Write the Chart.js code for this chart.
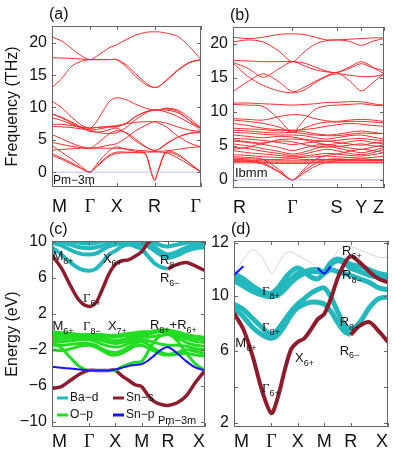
<!DOCTYPE html>
<html>
<head>
<meta charset="utf-8">
<script src="https://cdn.jsdelivr.net/npm/chart.js@4.4.0/dist/chart.umd.min.js"></script>
<style>
  body { margin: 0; background: #fff; width: 393px; height: 452px; position: relative; overflow: hidden; }
  canvas { position: absolute; }
</style>
</head>
<body>
<canvas id="chartA" width="210" height="222" style="left:0;top:0"></canvas>
<canvas id="chartB" width="188" height="222" style="left:205px;top:0"></canvas>
<canvas id="chartC" width="210" height="230" style="left:0;top:222px"></canvas>
<canvas id="chartD" width="188" height="230" style="left:205px;top:222px"></canvas>
<script>
// ---- (a) phonons, Pm-3m, path M-G-X-R-G ----
const kPathA = [0, 0.35, 0.71, 1.06, 1.414, 1.66, 1.91, 2.16, 2.414, 2.77, 3.12, 3.48, 3.68, 3.828, 3.97, 4.26, 4.69, 5.13, 5.56];
const symPointsA = [0, 1.414, 2.414, 3.828, 5.56];
const symLabelsA = ['M', 'Γ', 'X', 'R', 'Γ'];
const phononA_acoustic = [
  [2.6, 2.0, 1.3, 0.6, 0, 0.8, 1.7, 2.5, 2.9, 3.0, 3.05, 3.1, 3.1, 3.1, 3.1, 3.0, 2.2, 1.1, 0],
  [2.9, 2.2, 1.5, 0.7, 0, 0.9, 1.9, 2.7, 3.1, 3.1, 3.0, 2.8, 0.2, -1.3, 0.2, 3.0, 2.6, 1.4, 0],
  [4.1, 3.1, 2.1, 1.0, 0, 1.2, 2.4, 3.4, 3.9, 3.5, 3.2, 2.9, 0.4, -1.2, 0.4, 3.2, 2.8, 1.4, 0]
];
const phononA_optical = [
  [3.4, 3.5, 3.6, 3.7, 3.7, 3.7, 3.7, 3.7, 3.7, 3.6, 3.4, 3.3, 3.2, 3.2, 3.2, 3.3, 3.5, 3.8, 3.9],
  [4.6, 4.3, 4.0, 3.8, 3.7, 3.8, 4.0, 4.2, 4.4, 5.3, 6.4, 7.2, 7.6, 7.8, 7.6, 7.0, 5.6, 4.5, 3.9],
  [5.8, 5.2, 4.5, 4.0, 3.7, 4.3, 5.2, 6.0, 6.4, 6.1, 5.1, 4.0, 3.5, 3.3, 3.5, 4.4, 5.4, 6.0, 6.1],
  [7.1, 7.0, 6.9, 6.7, 6.5, 6.6, 6.8, 7.0, 7.1, 7.5, 8.6, 9.3, 9.5, 9.6, 9.6, 9.8, 9.4, 8.0, 6.8],
  [7.4, 7.4, 7.2, 7.0, 6.8, 6.9, 7.0, 7.1, 7.2, 7.5, 7.7, 7.8, 7.8, 7.8, 7.8, 7.6, 7.0, 6.5, 6.3],
  [8.4, 8.0, 7.4, 6.9, 6.5, 6.2, 6.0, 6.0, 6.1, 6.9, 8.1, 9.1, 9.5, 9.6, 9.6, 9.9, 9.6, 8.4, 6.8],
  [9.0, 8.5, 7.8, 7.0, 6.3, 6.2, 6.3, 6.6, 6.8, 6.0, 4.8, 3.9, 3.5, 3.4, 3.5, 4.3, 5.4, 6.0, 6.3],
  [11.0, 10.0, 8.6, 7.4, 6.8, 7.8, 9.5, 11.0, 11.5, 11.2, 10.5, 9.9, 9.7, 9.6, 9.6, 9.3, 8.6, 7.6, 6.8],
  [9.0, 8.4, 7.6, 7.0, 6.8, 6.9, 7.0, 7.0, 7.0, 7.6, 8.6, 9.3, 9.5, 9.6, 9.6, 9.6, 9.2, 8.0, 6.3]
];
const phononA_high = [
  [20.9, 20.3, 19.2, 18.1, 17.4, 17.9, 18.6, 19.3, 19.7, 20.5, 21.2, 21.6, 21.7, 21.7, 21.7, 21.5, 21.0, 19.4, 17.4],
  [17.7, 17.65, 17.6, 17.5, 17.4, 17.4, 17.4, 17.4, 17.4, 16.6, 15.2, 13.9, 13.3, 13.1, 13.2, 14.2, 15.8, 17.0, 17.4],
  [13.1, 14.4, 16.3, 17.1, 17.4, 17.4, 17.4, 17.4, 17.4, 16.3, 14.8, 13.6, 13.2, 13.1, 13.2, 14.1, 15.7, 16.9, 17.4]
];

// ---- (b) phonons, Ibmm, path R-G-S-Y-Z ----
const kPathB = [0, 0.1, 0.2, 0.3, 0.394, 0.47, 0.545, 0.62, 0.686, 0.77, 0.85, 0.925, 1.0];
const symPointsB = [0, 0.394, 0.686, 0.85, 1.0];
const symLabelsB = ['R', 'Γ', 'S', 'Y', 'Z'];
const phononB_high = [
  [21.0, 20.8, 21.0, 21.4, 21.5, 21.4, 21.0, 20.6, 20.6, 20.7, 20.8, 20.9, 20.9],
  [20.3, 20.6, 20.3, 19.0, 17.4, 18.8, 20.0, 20.5, 20.6, 20.4, 19.8, 20.4, 20.8],
  [17.6, 17.5, 17.4, 17.4, 17.4, 17.2, 16.6, 16.0, 15.8, 16.6, 17.4, 16.6, 15.6],
  [17.3, 16.4, 15.1, 16.3, 17.4, 16.8, 16.2, 15.9, 15.8, 16.4, 17.1, 16.5, 16.1],
  [13.0, 14.5, 15.6, 14.5, 13.0, 13.6, 14.5, 15.3, 15.8, 14.6, 13.1, 14.3, 15.6],
  [17.2, 15.2, 13.9, 13.1, 12.8, 13.2, 14.3, 15.2, 15.6, 15.4, 15.2, 15.2, 15.5]
];
const phononB_mid = [
  [11.3, 11.3, 11.2, 11.1, 11.0, 11.1, 11.2, 11.4, 11.4, 11.5, 11.5, 11.2, 11.0],
  [11.1, 11.0, 10.8, 9.0, 7.0, 8.8, 10.4, 10.9, 11.0, 11.1, 11.2, 11.0, 10.9],
  [9.0, 8.9, 8.8, 9.3, 9.6, 9.5, 9.0, 8.7, 8.6, 8.8, 8.9, 8.8, 8.6],
  [8.8, 8.6, 8.3, 7.8, 7.0, 7.6, 8.2, 8.5, 8.5, 8.6, 8.6, 8.5, 8.4]
];
const phononB_low = [
  [8.3, 8.0, 7.6, 7.4, 7.3, 7.4, 7.6, 7.9, 8.1, 8.3, 8.2, 8.0, 7.9],
  [7.6, 7.5, 7.4, 7.2, 7.3, 7.1, 6.8, 6.6, 6.7, 7.0, 7.2, 7.0, 6.8],
  [7.3, 7.2, 7.0, 6.9, 7.0, 6.8, 6.6, 6.5, 6.5, 6.7, 6.9, 6.8, 6.8],
  [7.0, 6.9, 6.7, 6.6, 6.6, 6.5, 6.2, 6.0, 6.2, 6.5, 6.6, 6.3, 6.0],
  [6.6, 6.4, 6.2, 6.4, 6.3, 6.0, 5.8, 5.7, 5.8, 6.0, 6.1, 5.9, 5.8],
  [5.9, 5.6, 5.4, 5.9, 6.0, 5.9, 5.5, 5.2, 5.3, 5.6, 5.8, 5.5, 5.3],
  [6.1, 6.0, 5.8, 5.5, 5.2, 5.4, 5.6, 5.7, 5.5, 5.3, 5.1, 5.4, 5.6],
  [5.7, 5.5, 5.2, 4.8, 4.3, 4.7, 5.1, 5.2, 5.0, 4.7, 4.5, 4.8, 5.2],
  [4.5, 4.8, 5.4, 5.7, 5.6, 5.2, 4.9, 4.8, 4.9, 5.1, 5.3, 5.0, 4.9],
  [5.3, 5.0, 4.6, 4.2, 3.8, 4.1, 4.6, 5.0, 4.7, 4.3, 4.0, 4.3, 4.8],
  [4.8, 4.6, 4.2, 3.9, 3.6, 3.8, 4.2, 4.5, 4.3, 3.9, 3.7, 4.0, 4.5],
  [4.3, 4.0, 3.8, 3.6, 3.4, 3.5, 3.7, 3.9, 3.8, 3.6, 3.5, 3.7, 4.0],
  [3.7, 3.6, 3.4, 3.3, 3.2, 3.3, 3.4, 3.5, 3.4, 3.3, 3.2, 3.3, 3.5],
  [3.2, 3.1, 3.0, 3.0, 3.1, 3.0, 3.0, 3.0, 3.0, 3.0, 3.1, 3.0, 3.0],
  [2.9, 2.9, 2.8, 2.8, 2.8, 2.8, 2.8, 2.8, 2.8, 2.8, 2.8, 2.8, 2.8],
  [2.7, 2.7, 2.6, 2.6, 2.6, 2.6, 2.6, 2.6, 2.6, 2.6, 2.6, 2.6, 2.6],
  [2.5, 2.5, 2.5, 2.4, 2.4, 2.4, 2.5, 2.5, 2.5, 2.5, 2.5, 2.5, 2.5]
];
const phononB_acoustic = [
  [3.0, 2.9, 2.5, 1.3, 0, 1.0, 2.0, 2.6, 2.8, 2.9, 2.9, 2.9, 2.9],
  [2.8, 2.7, 2.3, 1.2, 0, 1.3, 2.4, 3.0, 3.1, 3.0, 2.9, 2.9, 2.9],
  [3.4, 3.3, 3.0, 1.6, 0, 1.6, 3.0, 3.6, 3.8, 4.2, 4.5, 4.3, 4.0]
];

const freqTicks = [0, 5, 10, 15, 20];

// ---- (c), (d) electronic bands, path M-G-X-M-R-X ----
const kPathCD = [0, 0.354, 0.707, 1.061, 1.414, 1.664, 1.914, 2.164, 2.414, 2.664, 2.914, 3.164, 3.414, 3.664, 3.914, 4.164, 4.414, 4.768, 5.121, 5.475, 5.828];
const symPointsCD = [0, 1.414, 2.414, 3.414, 4.414, 5.828];
const symLabelsCD = ['M', 'Γ', 'X', 'M', 'R', 'X'];

const bandsC_Bad = [
  [9.4, 8.6, 7.7, 7.0, 6.8, 7.0, 7.7, 8.6, 9.0, 9.5, 9.7, 9.5, 9.2, 8.4, 7.6, 7.2, 7.0, null, null, null, null],
  [9.9, 9.6, 9.1, 8.7, 8.6, 8.7, 9.1, 9.5, 9.7, 9.9, 10.0, 9.9, 9.7, 9.5, 9.0, 8.5, 8.2, 8.5, 9.0, 9.3, 9.4],
  [10.2, 10.0, 9.7, 9.4, 9.3, 9.4, 9.6, 9.9, 10.0, 10.1, 10.2, 10.1, 10.0, 9.8, 9.4, 8.9, 8.6, 8.9, 9.4, 9.7, 9.8],
  [10.4, 10.3, 10.1, 9.9, 9.8, 9.9, 10.1, 10.3, 10.4, 10.5, 10.5, 10.4, 10.3, 10.2, 9.9, 9.6, 9.5, 9.7, 9.9, 10.0, 10.1]
];
const bandsC_Sns = [
  [8.5, 7.1, 5.1, 3.4, 2.8, 3.2, 4.7, 6.4, 7.5, 7.9, 8.0, 8.4, 8.9, 9.9, 10.4, 10.8, 11.0, 10.8, 10.6, 10.4, 10.3],
  [null, null, null, null, null, null, null, null, null, null, null, null, null, null, null, null, 7.0, 7.5, 7.7, 7.3, 6.8],
  [-6.3, -6.1, -5.4, -4.7, -4.3, -4.3, -4.3, -4.3, -4.3, -4.9, -5.4, -5.9, -6.1, -7.1, -7.8, -8.1, -8.2, -7.9, -7.1, -5.6, -4.3]
];
const bandsC_Op = [
  [0.0, -0.1, -0.2, -0.3, -0.3, -0.3, -0.3, -0.4, -0.4, -0.3, -0.2, -0.1, 0.0, 0.0, 0.1, 0.2, 0.2, 0.0, -0.3, -0.5, -0.6],
  [-0.3, -0.3, -0.4, -0.4, -0.4, -0.5, -0.6, -0.6, -0.6, -0.5, -0.4, -0.3, -0.2, -0.1, 0.0, 0.1, 0.1, -0.2, -0.5, -0.8, -0.9],
  [-0.6, -0.5, -0.5, -0.5, -0.5, -0.6, -0.8, -0.9, -1.0, -0.9, -0.7, -0.5, -0.4, -0.3, -0.1, 0.0, 0.0, -0.4, -0.8, -1.1, -1.2],
  [-0.9, -0.8, -0.7, -0.7, -0.7, -0.8, -1.0, -1.2, -1.3, -1.2, -1.0, -0.8, -0.6, -0.6, -0.5, -0.4, -0.3, -0.7, -1.2, -1.5, -1.6],
  [-1.2, -1.1, -1.0, -0.9, -0.9, -1.1, -1.4, -1.6, -1.7, -1.6, -1.3, -1.0, -0.9, -1.0, -1.2, -1.4, -1.5, -1.5, -1.6, -1.9, -2.0],
  [-1.5, -1.5, -1.4, -1.3, -1.3, -1.5, -1.9, -2.2, -2.3, -2.1, -1.7, -1.3, -1.1, -1.4, -1.9, -2.3, -2.5, -2.3, -2.0, -2.2, -2.4],
  [-2.0, -2.1, -1.9, -1.6, -1.5, -1.7, -2.1, -2.5, -2.6, -2.4, -2.0, -1.6, -1.5, -1.8, -2.2, -2.5, -2.6, -2.5, -2.4, -2.6, -2.7],
  [-1.1, -1.8, -2.9, -3.9, -4.3, -4.3, -4.3, -4.3, -4.3, -3.9, -3.6, -3.4, -3.3, -2.2, -1.0, -0.4, -0.2, -1.0, -2.4, -3.6, -4.3]
];
const bandsC_Snp = [
  [-3.9, -4.0, -4.1, -4.2, -4.3, -4.3, -4.3, -4.3, -4.2, -4.0, -3.8, -3.7, -3.6, -3.2, -2.6, -2.0, -1.7, -2.4, -3.3, -4.0, -4.3]
];
const energyTicksC = [-10, -6, -2, 2, 6, 10];

const bandsD_Bad = [
  [8.4, 7.9, 7.3, 6.9, 6.7, 6.9, 7.4, 8.0, 8.4, 8.6, 8.7, 8.7, 8.6, 8.2, 7.6, 7.1, 6.9, null, null, null, null],
  [8.6, 8.3, 7.8, 7.3, 6.9, 7.2, 7.7, 8.2, 8.6, 8.9, 9.2, 9.4, 9.5, 9.0, 8.2, 7.5, 7.2, 7.6, 8.4, 8.9, 9.0],
  [9.9, 9.6, 9.3, 9.1, 9.0, 9.1, 9.4, 9.8, 10.1, 10.3, 10.4, 10.4, 10.4, 10.8, 11.0, 10.9, 10.6, 10.4, 10.2, 10.1, 10.0],
  [10.1, 9.8, 9.5, 9.2, 9.1, 9.3, 9.7, 10.0, 10.3, 10.4, 10.5, 10.5, 10.4, 10.9, 11.1, 11.0, 10.8, 10.7, 10.5, 10.3, 10.2],
  [10.3, 10.0, 9.6, 9.3, 9.2, 9.5, 10.0, 10.4, 10.6, 10.4, 10.1, 10.0, 10.3, 10.5, 10.4, 10.3, 10.2, 10.0, 9.8, 9.5, 9.4]
];
const bandsD_Sns = [
  [8.1, 7.2, 5.7, 3.8, 2.55, 3.45, 4.9, 6.1, 6.5, 6.7, 7.2, 7.75, 8.05, 8.9, 10.0, 10.8, 11.25, 10.9, 10.4, 10.0, 9.8],
  [null, null, null, null, null, null, null, null, null, null, null, null, null, null, null, null, 6.9, 7.4, 7.6, 7.1, 6.5]
];
const bandsD_weak = [
  [10.2, 11.1, 11.6, 11.2, 10.3, 10.8, 11.4, 11.5, 11.3, 11.1, 10.9, 10.6, 10.3, 11.0, 11.5, 11.8, 11.8, 11.6, 11.4, 11.2, 11.2]
];
const bandsD_weakSnp = [
  [10.2, 10.7, null, null, null, null, null, null, null, null, null, 10.6, 10.3, 10.7, null, null, null, null, null, null, null]
];
const energyTicksD = [2, 4, 6, 9.05, 12];
const energyLabelsD = ['2', '', '6', '10', '12'];

// level labels: [k, E, main, sub, main, sub ...]
const notesC = [
  [0.02, 8.4, 'M', '6+'], [1.94, 8.1, 'X', '6+'], [4.11, 7.9, 'R', '8−'], [4.11, 5.9, 'R', '6−'],
  [1.18, 3.7, 'Γ', '6+'], [0.02, 0.6, 'M', '6+'], [1.18, 0.6, 'Γ', '8−'], [2.13, 0.6, 'X', '7+'],
  [3.73, 0.7, 'R', '8+', '+R', '6+']
];
const notesD = [
  [4.09, 11.5, 'R', '6+'], [4.09, 10.2, 'R', '8−'], [1.06, 9.3, 'Γ', '8+'], [1.06, 7.3, 'Γ', '8+'],
  [4.0, 7.6, 'R', '8−'], [0.05, 6.4, 'M', '6+'], [4.0, 6.0, 'R', '6−'], [2.31, 5.6, 'X', '6+'],
  [1.06, 3.9, 'Γ', '6+']
];
const legendC = [['Ba−d', '#22b8bd'], ['O−p', '#22dd22'], ['Sn−s', '#8e1c2c'], ['Sn−p', '#1414ff']];

const FONT = '"Liberation Sans", Arial, sans-serif';
const SERIF = '"Liberation Serif", "DejaVu Serif", serif';

function bandSets(k, bands, color, width) {
  return bands.map(b => ({
    data: k.map((x, i) => ({ x: x, y: b[i] })),
    borderColor: color,
    borderWidth: width,
    pointRadius: 0,
    tension: 0.3,
    spanGaps: false,
    clip: 0
  }));
}

function zeroLine(k) {
  return {
    data: [{ x: k[0], y: 0 }, { x: k[k.length - 1], y: 0 }],
    borderColor: 'rgba(130,140,255,0.55)', borderWidth: 1, pointRadius: 0, clip: 0
  };
}

function drawNote(ctx, chart, note) {
  let x = chart.scales.x.getPixelForValue(note[0]);
  const y = chart.scales.y.getPixelForValue(note[1]);
  ctx.fillStyle = '#111';
  ctx.textAlign = 'left';
  ctx.textBaseline = 'middle';
  for (let i = 2; i < note.length; i += 2) {
    ctx.font = '13px ' + (note[i] === 'Γ' ? SERIF : FONT);
    ctx.fillText(note[i], x, y);
    x += ctx.measureText(note[i]).width;
    ctx.font = '9px ' + FONT;
    ctx.fillText(note[i + 1], x, y + 5);
    x += ctx.measureText(note[i + 1]).width;
  }
}

const panelDecor = {
  id: 'panelDecor',
  afterDatasetsDraw(chart, args, opts) {
    const ctx = chart.ctx;
    const a = chart.chartArea;
    const sx = chart.scales.x, sy = chart.scales.y;
    ctx.save();
    // axes box and inward ticks
    ctx.strokeStyle = '#666';
    ctx.lineWidth = 1;
    ctx.beginPath();
    sx.ticks.forEach(t => {
      const px = Math.round(sx.getPixelForValue(t.value)) + 0.5;
      ctx.moveTo(px, a.bottom); ctx.lineTo(px, a.bottom - 4);
      ctx.moveTo(px, a.top); ctx.lineTo(px, a.top + 4);
    });
    sy.ticks.forEach(t => {
      const py = Math.round(sy.getPixelForValue(t.value)) + 0.5;
      ctx.moveTo(a.left, py); ctx.lineTo(a.left + 4, py);
      ctx.moveTo(a.right, py); ctx.lineTo(a.right - 4, py);
    });
    ctx.stroke();
    ctx.strokeRect(Math.round(a.left) + 0.5, Math.round(a.top) + 0.5, Math.round(a.width) - 1, Math.round(a.height) - 1);

    // panel tag
    ctx.fillStyle = '#111';
    ctx.font = '16px ' + FONT;
    ctx.textAlign = 'left';
    ctx.textBaseline = 'bottom';
    ctx.fillText(opts.tag, a.left - 3, a.top - 3);

    (opts.notes || []).forEach(n => drawNote(ctx, chart, n));

    if (opts.legend) {
      ctx.font = '12px ' + FONT;
      ctx.textBaseline = 'middle';
      opts.legend.forEach((item, i) => {
        const col = Math.floor(i / 2), row = i % 2;
        const lx = a.left + 5 + col * 56;
        const ly = a.bottom - 29 + row * 17;
        ctx.strokeStyle = item[1];
        ctx.lineWidth = 3;
        ctx.beginPath(); ctx.moveTo(lx, ly); ctx.lineTo(lx + 11, ly); ctx.stroke();
        ctx.fillStyle = '#111';
        ctx.fillText(item[0], lx + 13, ly);
      });
    }

    if (opts.group) {
      ctx.beginPath();
      ctx.rect(a.left, a.top, a.width, a.height);
      ctx.clip();
      ctx.fillStyle = '#111';
      ctx.font = opts.group.size + 'px ' + FONT;
      ctx.textBaseline = 'middle';
      ctx.fillText(opts.group.text, a.left + opts.group.dx, a.bottom - opts.group.dy);
    }
    ctx.restore();
  }
};

function makeChart(id, cfg) {
  return new Chart(document.getElementById(id), {
    type: 'line',
    data: { datasets: cfg.datasets },
    options: {
      responsive: false,
      animation: false,
      events: [],
      layout: { padding: cfg.padding },
      plugins: {
        legend: { display: false },
        tooltip: { enabled: false },
        panelDecor: cfg.decor
      },
      scales: {
        x: {
          type: 'linear',
          min: cfg.k[0], max: cfg.k[cfg.k.length - 1],
          grid: { display: false, drawTicks: false },
          border: { display: false },
          afterBuildTicks: s => { s.ticks = cfg.sym.map(v => ({ value: v })); },
          afterFit: s => { s.height = cfg.xHeight; },
          ticks: {
            autoSkip: false, maxRotation: 0, align: 'inner', padding: cfg.xPad,
            color: '#111',
            font: c => ({ size: 18, family: cfg.symLabels[c.index] === 'Γ' ? SERIF : FONT }),
            callback: (v, i) => cfg.symLabels[i]
          }
        },
        y: {
          type: 'linear',
          min: cfg.yMin, max: cfg.yMax,
          grid: { display: false, drawTicks: false },
          border: { display: false },
          afterBuildTicks: s => { s.ticks = cfg.yTicks.map(v => ({ value: v })); },
          afterFit: s => { s.width = cfg.yWidth; },
          title: cfg.yTitle ? {
            display: true, text: cfg.yTitle, color: '#111',
            font: { size: 16, family: FONT }, padding: { top: 3, bottom: 0 }
          } : { display: false },
          ticks: {
            padding: 5, color: '#111', font: { size: 16, family: FONT },
            callback: (v, i) => cfg.yLabels ? cfg.yLabels[i] : String(v).replace('-', '−')
          }
        }
      }
    },
    plugins: [panelDecor]
  });
}

const RED = '#ff2a2a';
const CYAN = '#22b8bd', MAROON = '#8e1c2c', GREEN = '#22dd22', BLUE = '#1414ff';

makeChart('chartA', {
  k: kPathA, sym: symPointsA, symLabels: symLabelsA,
  datasets: [zeroLine(kPathA)]
    .concat(bandSets(kPathA, phononA_acoustic, RED, 1))
    .concat(bandSets(kPathA, phononA_optical, RED, 1))
    .concat(bandSets(kPathA, phononA_high, RED, 1)),
  padding: { top: 26, right: 4, left: 0, bottom: 0 },
  yMin: -2.3, yMax: 22.6, yTicks: freqTicks, yWidth: 52, xHeight: 35, xPad: 9,
  yTitle: 'Frequency (THz)',
  decor: { tag: '(a)', group: { text: 'Pm−3m', size: 12, dx: 1, dy: 6 } }
});

makeChart('chartB', {
  k: kPathB, sym: symPointsB, symLabels: symLabelsB,
  datasets: [zeroLine(kPathB)]
    .concat(bandSets(kPathB, phononB_acoustic, RED, 1))
    .concat(bandSets(kPathB, phononB_low, RED, 1))
    .concat(bandSets(kPathB, phononB_mid, RED, 1))
    .concat(bandSets(kPathB, phononB_high, RED, 1)),
  padding: { top: 27, right: 6, left: 0, bottom: 0 },
  yMin: -1.2, yMax: 22.5, yTicks: freqTicks, yWidth: 28, xHeight: 34, xPad: 9,
  decor: { tag: '(b)', group: { text: 'Ibmm', size: 13, dx: 2, dy: 15 } }
});

makeChart('chartC', {
  k: kPathCD, sym: symPointsCD, symLabels: symLabelsCD,
  datasets: []
    .concat(bandSets(kPathCD, bandsC_Snp, BLUE, 2))
    .concat(bandSets(kPathCD, bandsC_Op, GREEN, 3))
    .concat(bandSets(kPathCD, bandsC_Sns, MAROON, 3.5))
    .concat(bandSets(kPathCD, bandsC_Bad, CYAN, 4)),
  padding: { top: 19, right: 5, left: 0, bottom: 0 },
  yMin: -10.6, yMax: 10.1, yTicks: energyTicksC, yWidth: 52, xHeight: 25, xPad: 4,
  yTitle: 'Energy (eV)',
  decor: { tag: '(c)', notes: notesC, legend: legendC, group: { text: 'Pm−3m', size: 11, dx: 106, dy: 6 } }
});

makeChart('chartD', {
  k: kPathCD, sym: symPointsCD, symLabels: symLabelsCD,
  datasets: []
    .concat(bandSets(kPathCD, bandsD_weakSnp, BLUE, 2))
    .concat(bandSets(kPathCD, bandsD_weak, 'rgba(150,120,150,0.35)', 1))
    .concat(bandSets(kPathCD, bandsD_Sns, MAROON, 4))
    .concat(bandSets(kPathCD, bandsD_Bad, CYAN, 5)),
  padding: { top: 19, right: 5, left: 0, bottom: 0 },
  yMin: 1.78, yMax: 12.1, yTicks: energyTicksD, yLabels: energyLabelsD, yWidth: 29, xHeight: 25, xPad: 4,
  decor: { tag: '(d)', notes: notesD }
});
</script>
</body>
</html>
